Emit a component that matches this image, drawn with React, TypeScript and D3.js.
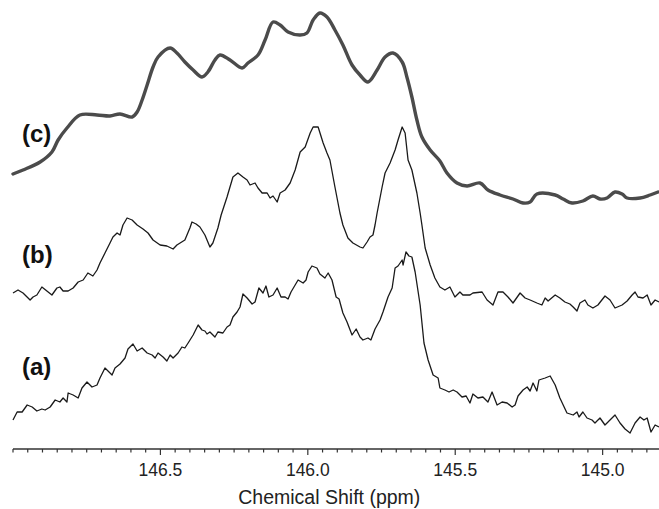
import React from "react";
import * as d3 from "d3";

// Chemical shift (ppm) and intensity (a.u.) for each spectrum
const shiftA = [
  147.000,146.986,146.969,146.952,146.935,146.919,146.902,146.891,146.874,146.857,
  146.841,146.830,146.817,146.813,146.796,146.779,146.766,146.749,146.732,146.715,
  146.705,146.688,146.664,146.654,146.637,146.620,146.610,146.593,146.579,146.562,
  146.545,146.528,146.518,146.508,146.491,146.478,146.467,146.457,146.440,146.427,
  146.417,146.406,146.389,146.372,146.359,146.349,146.342,146.332,146.315,146.305,
  146.288,146.274,146.264,146.254,146.240,146.230,146.220,146.206,146.189,146.179,
  146.166,146.152,146.142,146.132,146.118,146.104,146.091,146.077,146.067,146.057,
  146.043,146.033,146.016,146.006,145.999,145.986,145.969,145.959,145.942,145.931,
  145.918,145.904,145.894,145.881,145.867,145.850,145.836,145.823,145.813,145.796,
  145.786,145.772,145.755,145.745,145.728,145.714,145.704,145.694,145.680,145.677,
  145.667,145.657,145.647,145.636,145.619,145.606,145.592,145.575,145.558,145.552,
  145.535,145.521,145.507,145.494,145.477,145.463,145.450,145.440,145.423,145.406,
  145.389,145.375,145.358,145.341,145.324,145.307,145.297,145.287,145.270,145.256,
  145.246,145.236,145.223,145.216,145.195,145.178,145.161,145.145,145.121,145.100,
  145.087,145.080,145.067,145.053,145.036,145.026,145.009,144.992,144.975,144.958,
  144.941,144.924,144.907,144.890,144.873,144.860,144.849,144.836,144.822,144.809,
];
const intensityA = [
  29,37,37,44,42,38,40,39,42,49,
  47,51,47,56,54,51,61,67,62,64,
  71,81,74,81,85,91,100,105,98,101,
  96,94,91,96,92,88,94,91,96,102,
  101,106,114,124,119,118,115,117,112,117,
  116,122,124,132,137,142,155,151,145,147,
  161,156,163,152,154,161,152,152,150,157,
  164,169,166,169,177,183,181,175,171,176,
  169,152,150,136,127,114,120,112,109,111,
  109,120,129,137,152,161,181,183,189,184,
  197,193,192,177,144,106,89,74,71,61,
  59,57,59,57,52,53,46,55,51,52,
  47,57,44,47,46,42,44,53,59,62,
  58,66,58,69,71,73,64,51,36,34,
  37,32,37,31,29,26,31,24,29,34,
  26,20,16,26,32,29,31,17,24,22,
];

const shiftB = [
  147.000,146.983,146.966,146.942,146.932,146.919,146.902,146.885,146.868,146.851,
  146.841,146.830,146.813,146.796,146.779,146.762,146.746,146.729,146.715,146.705,
  146.688,146.671,146.661,146.647,146.637,146.627,146.613,146.596,146.579,146.559,
  146.542,146.525,146.501,146.478,146.457,146.444,146.417,146.400,146.393,146.379,
  146.366,146.349,146.332,146.322,146.305,146.294,146.274,146.254,146.237,146.220,
  146.206,146.196,146.179,146.169,146.155,146.138,146.128,146.118,146.104,146.094,
  146.077,146.060,146.043,146.026,146.009,145.992,145.982,145.965,145.948,145.935,
  145.925,145.908,145.891,145.881,145.864,145.847,145.823,145.813,145.799,145.789,
  145.779,145.772,145.765,145.748,145.738,145.721,145.704,145.694,145.680,145.670,
  145.660,145.647,145.630,145.619,145.613,145.602,145.585,145.569,145.552,145.535,
  145.518,145.501,145.484,145.474,145.450,145.440,145.409,145.392,145.372,145.355,
  145.338,145.321,145.304,145.280,145.263,145.246,145.223,145.206,145.195,145.185,
  145.161,145.145,145.128,145.111,145.100,145.087,145.077,145.060,145.050,145.033,
  145.016,144.992,144.975,144.958,144.934,144.917,144.900,144.890,144.880,144.863,
  144.849,144.836,144.822,144.809,
];
const intensityB = [
  156,159,156,149,152,154,162,158,154,161,
  162,158,158,161,167,169,176,173,179,186,
  196,206,212,216,214,224,231,229,224,220,
  216,209,204,203,200,204,209,221,227,225,
  222,214,202,206,221,234,252,272,276,272,
  269,264,266,261,256,256,251,253,247,256,
  259,266,279,297,302,316,322,322,306,296,
  289,262,236,224,211,206,202,201,207,212,
  214,224,236,262,276,286,299,309,322,316,
  289,279,256,236,224,201,184,171,162,159,
  162,152,157,154,154,156,157,149,144,157,
  157,152,146,156,151,149,146,144,151,148,
  154,151,147,145,142,138,146,149,144,141,
  144,153,149,141,144,148,154,157,152,151,
  154,144,149,147,
];

const shiftC = [
  147.000,146.966,146.908,146.868,146.847,146.817,146.773,146.715,146.671,146.637,
  146.596,146.579,146.562,146.545,146.525,146.508,146.467,146.444,146.417,146.389,
  146.359,146.339,146.315,146.298,146.264,146.223,146.203,146.169,146.145,146.118,
  146.094,146.067,146.026,146.003,145.982,145.959,145.935,145.908,145.881,145.850,
  145.823,145.796,145.765,145.738,145.711,145.680,145.664,145.647,145.630,145.613,
  145.585,145.552,145.528,145.494,145.460,145.416,145.389,145.348,145.304,145.270,
  145.246,145.223,145.161,145.134,145.104,145.067,145.033,145.009,144.985,144.958,
  144.934,144.917,144.873,144.839,144.812,
];
const intensityC = [
  275,279,287,297,309,321,334,334,333,335,
  332,337,349,364,382,392,401,396,387,379,
  372,377,389,394,389,381,386,394,409,427,
  424,417,414,416,429,436,432,419,404,384,
  374,367,379,392,396,387,372,352,329,312,
  299,288,276,266,263,266,259,254,250,246,
  247,255,254,250,246,248,253,250,251,257,
  255,251,251,254,257,
];

const traceLabels = ["(a)", "(b)", "(c)"];
const majorTicks = [146.5, 146.0, 145.5, 145.0];
const minorTicks = d3.range(0, 45).map((i) => +(147.0 - i * 0.05).toFixed(2));
const axisTitle = "Chemical Shift (ppm)";

const W = 659;
const H = 509;
const axisY = 449;

export default function App() {
  const x = d3.scaleLinear().domain([147.0, 144.8]).range([13, 661.6]);
  const y = d3.scaleLinear().domain([0, 440]).range([axisY, 9]);

  const mk = (s: number[], v: number[]) => s.map((d, i) => [d, v[i]] as [number, number]);
  const lineLin = d3
    .line<[number, number]>()
    .x((d) => x(d[0]))
    .y((d) => y(d[1]))
    .curve(d3.curveLinear);
  const lineSmooth = d3
    .line<[number, number]>()
    .x((d) => x(d[0]))
    .y((d) => y(d[1]))
    .curve(d3.curveCatmullRom.alpha(0.5));

  const labelPos = [
    { x: 22, y: 375 },
    { x: 22, y: 263 },
    { x: 22, y: 142 },
  ];

  const isMajor = (t: number) => majorTicks.some((m) => Math.abs(m - t) < 1e-6);

  return (
    <svg
      width={W}
      height={H}
      style={{ position: "absolute", left: 0, top: 0, background: "#fff" }}
      fontFamily="'Liberation Sans', Arial, sans-serif"
    >
      <rect x={0} y={0} width={W} height={H} fill="#fff" />
      <defs>
        <clipPath id="plotclip">
          <rect x={10} y={0} width={W - 10} height={axisY} />
        </clipPath>
      </defs>
      <g clipPath="url(#plotclip)">
        <path d={lineLin(mk(shiftA, intensityA)) || ""} fill="none" stroke="#1a1a1a" strokeWidth={1.3} strokeLinejoin="round" />
        <path d={lineLin(mk(shiftB, intensityB)) || ""} fill="none" stroke="#1a1a1a" strokeWidth={1.3} strokeLinejoin="round" />
        <path d={lineSmooth(mk(shiftC, intensityC)) || ""} fill="none" stroke="#4b4b4b" strokeWidth={3.4} strokeLinejoin="round" strokeLinecap="round" />
      </g>
      {traceLabels.map((t, i) => (
        <text key={t} x={labelPos[i].x} y={labelPos[i].y} fontSize={24} fontWeight="bold" fill="#111">
          {t}
        </text>
      ))}
      <line x1={13} x2={W} y1={axisY} y2={axisY} stroke="#333" strokeWidth={1.5} />
      {minorTicks.map((t) => (
        <line
          key={t}
          x1={x(t)}
          x2={x(t)}
          y1={axisY}
          y2={axisY + (isMajor(t) ? 6 : 3.5)}
          stroke="#333"
          strokeWidth={1.2}
        />
      ))}
      {majorTicks.map((t) => (
        <text key={t} x={x(t)} y={476} textAnchor="middle" fontSize={17.5} fill="#222">
          {t.toFixed(1)}
        </text>
      ))}
      <text x={(x(147.0) + x(144.8)) / 2 - 8} y={504} textAnchor="middle" fontSize={19.5} fill="#222">
        {axisTitle}
      </text>
    </svg>
  );
}
